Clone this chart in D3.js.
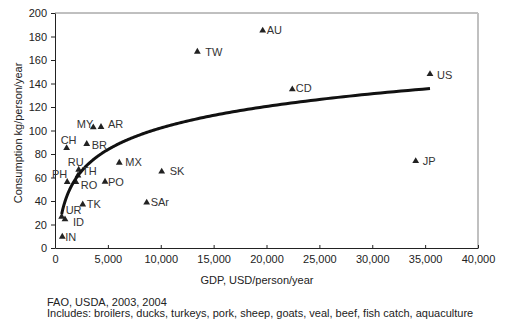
<!DOCTYPE html>
<html><head><meta charset="utf-8">
<script src="https://cdn.jsdelivr.net/npm/d3@7"></script>
<style>
body{margin:0;background:#fff;}
text{font-family:"Liberation Sans",Arial,sans-serif;}
</style></head>
<body><svg id="c" width="520" height="329"></svg>
<script>
const countries = ["AU","TW","US","CD","JP","MY","AR","CH","BR","RU","TH","PH","RO","TK","UR","ID","IN","MX","PO","SK","SAr"];
const gdp = [19640,13460,35460,22440,34110,3620,4350,1100,3000,2240,2170,1155,1970,2620,630,945,690,6080,4730,10090,8670];
const consumption = [185,167,148,135,74,102.7,103,85,88.5,66.6,61.7,56.2,56.2,37,26.6,24.4,9.6,72.6,56.4,65,38.6];
const xTicks = [0,5000,10000,15000,20000,25000,30000,35000,40000];
const yTicks = [0,20,40,60,80,100,120,140,160,180,200];

// label placement (offset from point, anchor)
const labelPos = {
  AU:[4,0,"start"], TW:[8,0,"start"], US:[7,1,"start"], CD:[3.5,-1,"start"], JP:[7,0,"start"],
  MY:[0,-3,"end"], AR:[7,-3,"start"], CH:[-6,-8,"start"], BR:[5,1,"start"], RU:[-11,-8,"start"],
  TH:[4,-4,"start"], PH:[0,-8,"end"], RO:[5,3,"start"], TK:[4,0,"start"], UR:[4,-7,"start"],
  ID:[8,3,"start"], IN:[3,0,"start"], MX:[6,-1,"start"], PO:[3,0,"start"], SK:[8,0,"start"], SAr:[4,0,"start"]
};

const svg = d3.select("#c");
const x = d3.scaleLinear().domain([0,40000]).range([55,478]);
const y = d3.scaleLinear().domain([0,200]).range([248,13]);

// frame top/right
svg.append("line").attr("x1",55).attr("x2",478).attr("y1",y(200)).attr("y2",y(200)).attr("stroke","#808080").attr("stroke-width",1);
svg.append("line").attr("x1",478).attr("x2",478).attr("y1",y(200)).attr("y2",248).attr("stroke","#c0c0c0").attr("stroke-width",2);

const fmt = d3.format(",");
const gx = svg.append("g").attr("transform","translate(0,248)")
  .call(d3.axisBottom(x).tickValues(xTicks).tickFormat(fmt).tickSizeInner(-3).tickSizeOuter(0).tickPadding(7));
const gy = svg.append("g").attr("transform","translate(55,0)")
  .call(d3.axisLeft(y).tickValues(yTicks).tickSizeInner(4).tickSizeOuter(0).tickPadding(4));
[gx,gy].forEach(g=>{
  g.selectAll("path.domain").attr("stroke","#222");
  g.selectAll(".tick line").attr("stroke","#222");
  g.selectAll("text").attr("font-family","Liberation Sans, Arial, sans-serif").attr("font-size",11).attr("fill","#222");
});

// log trendline (least squares fit of consumption on ln(gdp))
const lx = gdp.map(Math.log);
const mx = d3.mean(lx), my = d3.mean(consumption);
let sxy=0, sxx=0;
lx.forEach((v,i)=>{sxy+=(v-mx)*(consumption[i]-my); sxx+=(v-mx)*(v-mx);});
const slope = sxy/sxx, inter = my - slope*mx;
const [gmin,gmax] = d3.extent(gdp);
const curvePts = d3.range(0,201).map(i=>{const g=Math.exp(Math.log(gmin)+(Math.log(gmax)-Math.log(gmin))*i/200); return [g, slope*Math.log(g)+inter];});

// points
const tri = d3.symbol().type(d3.symbolTriangle).size(20);
const pts = svg.append("g");
countries.forEach((c,i)=>{
  pts.append("path").attr("d",tri).attr("transform",`translate(${x(gdp[i])},${y(consumption[i])})`).attr("fill","#222");
});
svg.append("path").datum(curvePts)
  .attr("d",d3.line().x(d=>x(d[0])).y(d=>y(d[1])))
  .attr("fill","none").attr("stroke","#111").attr("stroke-width",3);
const labs = svg.append("g");
countries.forEach((c,i)=>{
  const p = labelPos[c];
  labs.append("text").attr("x",x(gdp[i])+p[0]).attr("y",y(consumption[i])+p[1]).attr("dy","0.35em")
    .attr("text-anchor",p[2]).attr("font-size",11).attr("fill","#333").text(c);
});

svg.append("text").attr("x",257).attr("y",284).attr("text-anchor","middle").attr("font-size",11).attr("fill","#222").text("GDP, USD/person/year");
svg.append("text").attr("transform","translate(22,133) rotate(-90)").attr("text-anchor","middle").attr("font-size",11).attr("fill","#222").text("Consumption kg/person/year");
svg.append("text").attr("x",47).attr("y",306).attr("font-size",11).attr("fill","#222").text("FAO, USDA, 2003, 2004");
svg.append("text").attr("x",47).attr("y",317).attr("font-size",11).attr("fill","#222").text("Includes: broilers, ducks, turkeys, pork, sheep, goats, veal, beef, fish catch, aquaculture");
</script></body></html>
